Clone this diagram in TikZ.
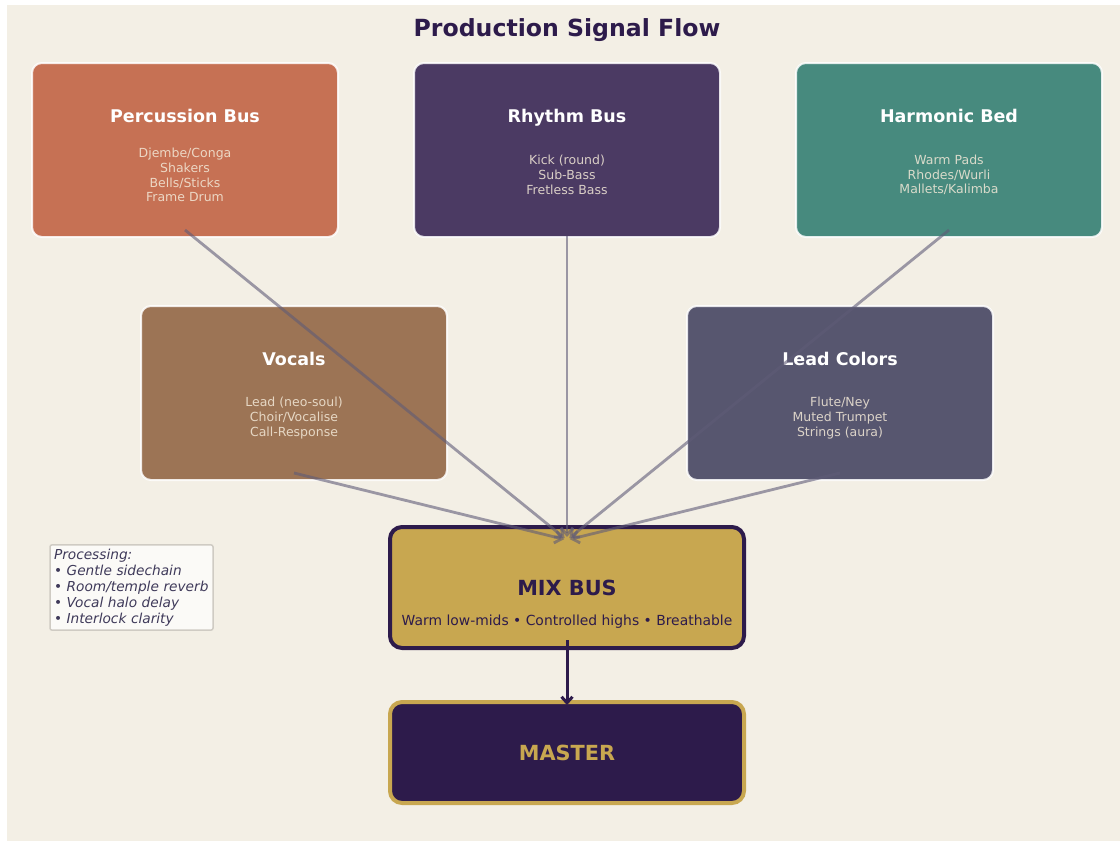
\documentclass[tikz,border=0pt]{standalone}
\usepackage{fontspec}
\setmainfont{DejaVu Sans}
\usetikzlibrary{arrows.meta,calc}

\definecolor{paper}{HTML}{F3EFE5}
\definecolor{ink}{HTML}{2D1B4B}
\definecolor{gold}{HTML}{C8A750}
\definecolor{percfill}{HTML}{C67154}
\definecolor{rhythmfill}{HTML}{4B3A63}
\definecolor{harmfill}{HTML}{478A7E}
\definecolor{vocfill}{HTML}{9C7455}
\definecolor{leadfill}{HTML}{57566F}
\definecolor{itemtxt}{HTML}{F3E9D8}
\definecolor{feedgray}{HTML}{5F5B77}
\definecolor{notetxt}{HTML}{3F3A5A}

\begin{document}
\begin{tikzpicture}[x=1pt, y=-1pt,
  bus/.style={draw=white, draw opacity=0.85, line width=2pt, rounded corners=10pt,
    minimum width=306pt, minimum height=174pt, inner sep=0pt},
  head/.style={text=white, text height=12.8pt, text depth=0pt, font=\fontsize{17.5}{21}\selectfont\bfseries},
  items/.style={text=itemtxt, text opacity=0.85, align=center, font=\fontsize{12.5}{14.7}\selectfont},
  feed/.style={line width=2.8pt, draw=feedgray, draw opacity=0.6,
    -{Straight Barb[length=7pt,width=12pt]}, shorten >=3pt},
  flow/.style={line width=3pt, draw=ink, -{Straight Barb[length=6pt,width=11pt]}}]
  \useasboundingbox (0,0) rectangle (1120,841);
  \fill[white] (0,0) rectangle (1120,841);
  \fill[paper] (7,5) rectangle (1120,841);
  \node[text=ink, font=\fontsize{23.6}{28}\selectfont\bfseries] (title) at (567,30) {Production Signal Flow};
  % source buses
  \node[bus, fill=percfill] (perc) at (185,150) {};
  \node[head] (perc-t) at (185,116) {Percussion Bus};
  \node[items] (perc-i) at (185,175) {Djembe/Conga\\Shakers\\Bells/Sticks\\Frame Drum};
  \node[bus, fill=rhythmfill] (rhythm) at (567,150) {};
  \node[head] (rhythm-t) at (567,116) {Rhythm Bus};
  \node[items] (rhythm-i) at (567,175) {Kick (round)\\Sub-Bass\\Fretless Bass};
  \node[bus, fill=harmfill] (harm) at (949,150) {};
  \node[head] (harm-t) at (949,116) {Harmonic Bed};
  \node[items] (harm-i) at (949,175) {Warm Pads\\Rhodes/Wurli\\Mallets/Kalimba};
  \node[bus, fill=vocfill] (voc) at (294,393) {};
  \node[head] (voc-t) at (294,359) {Vocals};
  \node[items] (voc-i) at (294,418) {Lead (neo-soul)\\Choir/Vocalise\\Call-Response};
  \node[bus, fill=leadfill] (lead) at (840,393) {};
  \node[head] (lead-t) at (840,359) {Lead Colors};
  \node[items] (lead-i) at (840,418) {Flute/Ney\\Muted Trumpet\\Strings (aura)};
  % mix and master
  \node[draw=ink, fill=gold, line width=4pt, rounded corners=12pt, minimum width=354pt,
    minimum height=121pt] (mix) at (567,587.5) {};
  \node[text=ink, font=\fontsize{20.8}{25}\selectfont\bfseries] (mix-t) at (567,588) {MIX BUS};
  \node[text=ink, font=\fontsize{13.9}{16}\selectfont] (mix-s) at (567,622) {Warm low-mids • Controlled highs • Breathable};
  \node[draw=gold, fill=ink, line width=4pt, rounded corners=12pt, minimum width=354pt,
    minimum height=101pt] (master) at (567,752.5) {};
  \node[text=gold, font=\fontsize{20.8}{25}\selectfont\bfseries] (master-t) at (567,753) {MASTER};
  % processing note
  \node[draw=black!15!paper, fill=white!70!paper, line width=1.5pt, rounded corners=2pt,
    text=notetxt, align=left, text width=155pt, inner sep=4pt, minimum height=85pt,
    font=\fontsize{13.7}{16}\selectfont\itshape] (note) at (131.5,587.5)
    {Processing:\\• Gentle sidechain\\• Room/temple reverb\\• Vocal halo delay\\• Interlock clarity};
  % signal routing
  \coordinate (mixin) at (567,540);
  \draw[feed] ([yshift=8pt]perc.south) -- (mixin);
  \draw[feed] ([yshift=2pt]rhythm.south) -- (mixin);
  \draw[feed] ([yshift=8pt]harm.south) -- (mixin);
  \draw[feed] ([yshift=8pt]voc.south) -- (mixin);
  \draw[feed] ([yshift=8pt]lead.south) -- (mixin);
  \draw[flow] ([yshift=10pt]mix.south) -- ([yshift=-5pt]master.north);
\end{tikzpicture}
\end{document}
